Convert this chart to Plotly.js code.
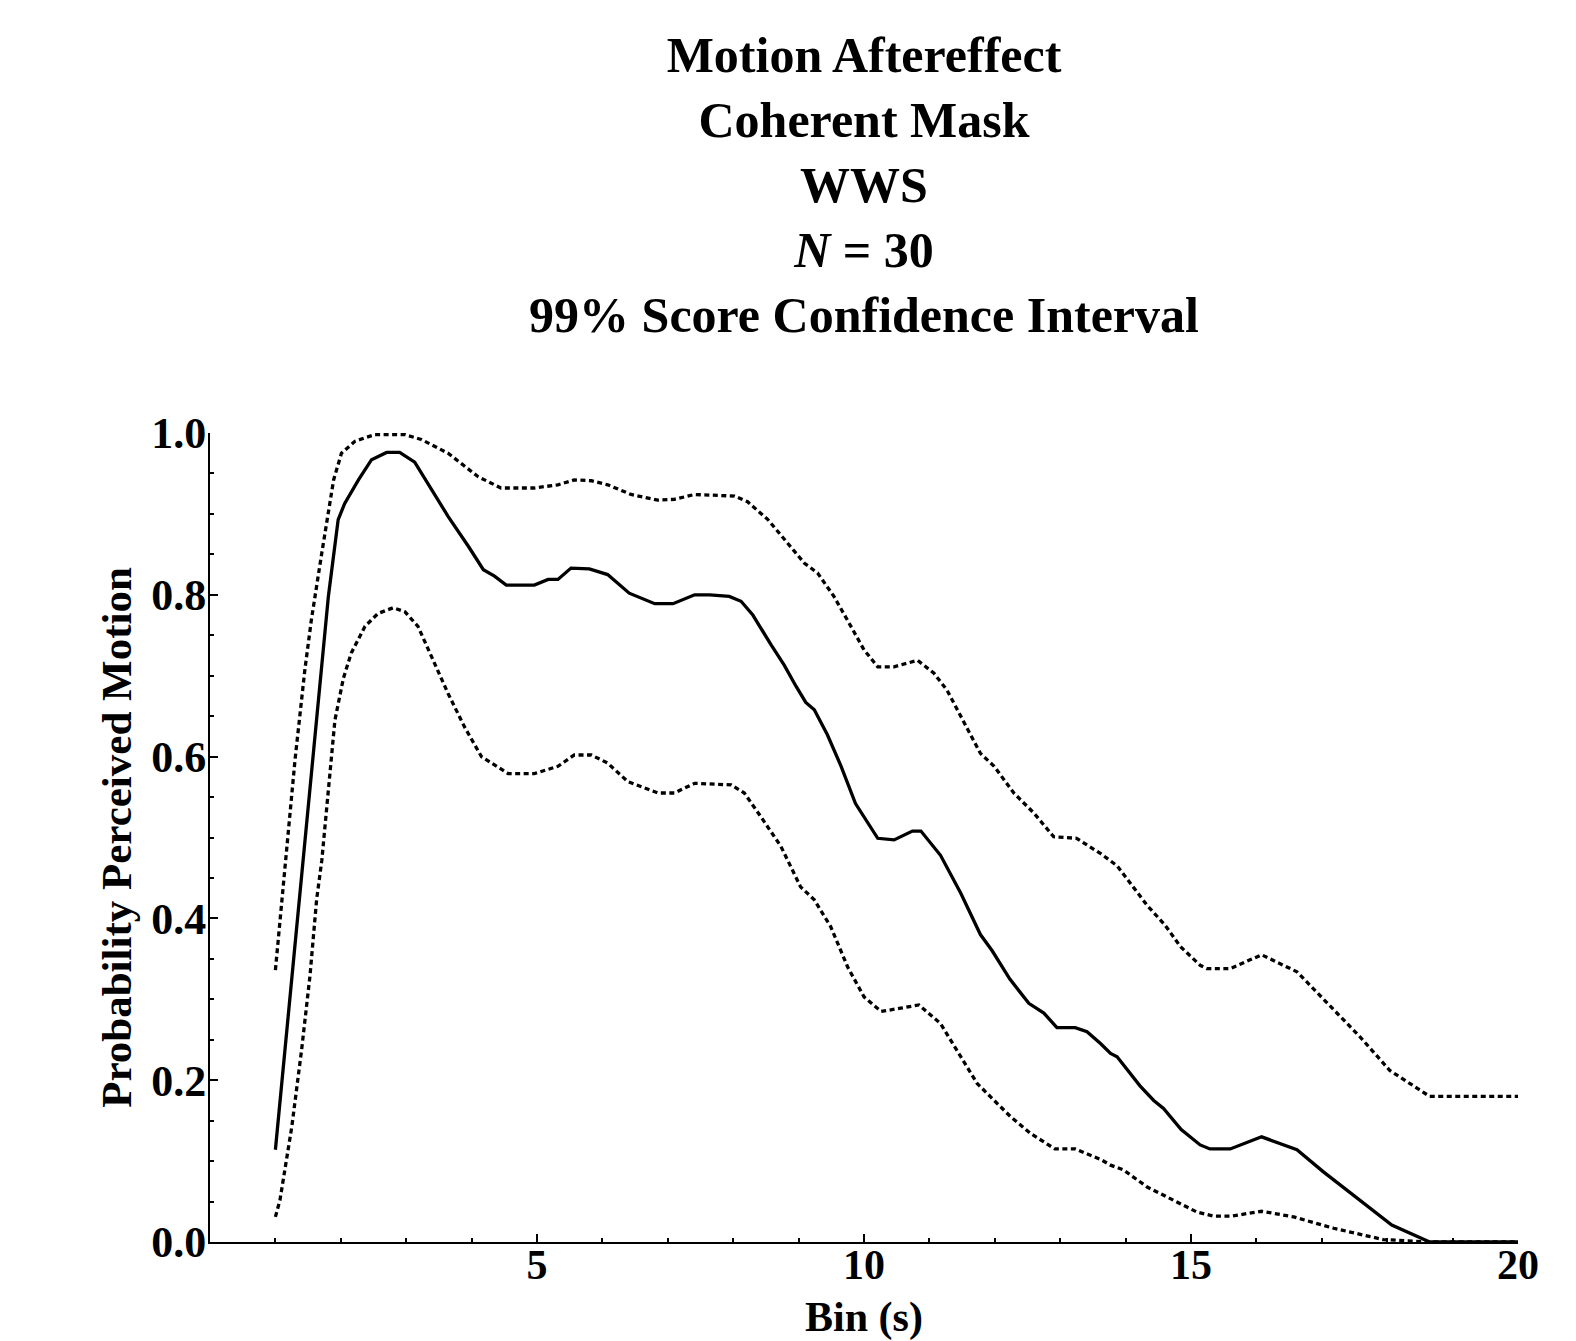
<!DOCTYPE html>
<html>
<head>
<meta charset="utf-8">
<script src="https://cdn.plot.ly/plotly-3.0.1.min.js"></script>
<style>
  html, body { margin: 0; padding: 0; background: #fff; }
  #chart { width: 1576px; height: 1341px; }
</style>
</head>
<body>
<div id="chart"></div>
<script>
// ---- Data ----
const meanX = [1.00, 1.63, 1.81, 1.96, 2.06, 2.27, 2.47, 2.70, 2.90, 3.13, 3.39, 3.64, 3.95, 4.18, 4.35, 4.53, 4.96, 5.17, 5.32, 5.52, 5.80, 6.08, 6.41, 6.80, 7.08, 7.41, 7.64, 7.94, 8.12, 8.30, 8.58, 8.78, 8.96, 9.11, 9.24, 9.44, 9.65, 9.87, 10.21, 10.46, 10.74, 10.87, 11.17, 11.48, 11.78, 11.96, 12.23, 12.52, 12.75, 12.95, 13.23, 13.41, 13.62, 13.77, 13.87, 14.22, 14.43, 14.58, 14.85, 15.14, 15.29, 15.60, 16.08, 16.62, 17.02, 17.64, 18.07, 18.65, 20.00];
const meanY = [0.114, 0.645, 0.798, 0.893, 0.913, 0.942, 0.967, 0.976, 0.976, 0.964, 0.930, 0.897, 0.860, 0.831, 0.823, 0.812, 0.812, 0.819, 0.819, 0.833, 0.832, 0.825, 0.802, 0.789, 0.789, 0.800, 0.800, 0.798, 0.792, 0.775, 0.738, 0.713, 0.687, 0.667, 0.658, 0.627, 0.588, 0.542, 0.499, 0.497, 0.508, 0.508, 0.478, 0.431, 0.380, 0.360, 0.325, 0.295, 0.283, 0.265, 0.265, 0.260, 0.245, 0.233, 0.229, 0.193, 0.175, 0.165, 0.139, 0.120, 0.115, 0.115, 0.130, 0.114, 0.087, 0.048, 0.021, 0.000, 0.000];

const upperX = [1.00, 1.10, 1.17, 1.30, 1.45, 1.55, 1.71, 1.89, 2.01, 2.22, 2.52, 2.98, 3.23, 3.64, 4.10, 4.45, 4.96, 5.32, 5.57, 5.83, 6.08, 6.44, 6.85, 7.10, 7.41, 8.02, 8.22, 8.53, 8.83, 9.09, 9.29, 9.54, 9.80, 10.00, 10.21, 10.46, 10.82, 11.07, 11.27, 11.50, 11.78, 11.99, 12.29, 12.60, 12.90, 13.25, 13.62, 13.87, 14.07, 14.33, 14.60, 14.84, 15.14, 15.24, 15.60, 16.08, 16.62, 17.08, 17.58, 18.04, 18.65, 20.00];
const upperY = [0.336, 0.423, 0.481, 0.596, 0.707, 0.769, 0.852, 0.942, 0.975, 0.990, 0.998, 0.998, 0.992, 0.975, 0.946, 0.932, 0.932, 0.936, 0.942, 0.941, 0.936, 0.924, 0.917, 0.918, 0.924, 0.922, 0.915, 0.893, 0.864, 0.839, 0.827, 0.798, 0.761, 0.732, 0.711, 0.711, 0.719, 0.703, 0.682, 0.647, 0.604, 0.588, 0.555, 0.530, 0.501, 0.499, 0.480, 0.465, 0.443, 0.416, 0.392, 0.365, 0.342, 0.338, 0.338, 0.355, 0.334, 0.295, 0.254, 0.212, 0.180, 0.180];

const lowerX = [1.00, 1.07, 1.25, 1.40, 1.53, 1.63, 1.71, 1.81, 1.91, 2.04, 2.16, 2.37, 2.57, 2.80, 2.98, 3.18, 3.39, 3.64, 3.89, 4.15, 4.56, 4.96, 5.32, 5.57, 5.83, 6.08, 6.39, 6.85, 7.10, 7.41, 7.97, 8.17, 8.42, 8.73, 9.03, 9.24, 9.49, 9.75, 10.00, 10.26, 10.56, 10.84, 11.17, 11.48, 11.73, 11.94, 12.24, 12.55, 12.92, 13.23, 13.62, 13.77, 13.97, 14.33, 14.73, 15.09, 15.35, 15.62, 16.08, 16.57, 17.18, 17.94, 18.65, 20.00];
const lowerY = [0.031, 0.052, 0.142, 0.237, 0.330, 0.423, 0.472, 0.555, 0.645, 0.697, 0.728, 0.761, 0.777, 0.784, 0.779, 0.761, 0.724, 0.678, 0.637, 0.600, 0.579, 0.579, 0.588, 0.602, 0.602, 0.592, 0.569, 0.555, 0.555, 0.567, 0.565, 0.555, 0.526, 0.489, 0.439, 0.423, 0.390, 0.340, 0.303, 0.285, 0.289, 0.293, 0.270, 0.229, 0.196, 0.179, 0.155, 0.134, 0.115, 0.115, 0.102, 0.095, 0.089, 0.068, 0.052, 0.037, 0.032, 0.032, 0.038, 0.031, 0.017, 0.003, 0.000, 0.000];

const titleLines = ['Motion Aftereffect', 'Coherent Mask', 'WWS', '<i>N</i> = 30', '99% Score Confidence Interval'];
const xTickVals = [5, 10, 15, 20];
const yTickVals = [0, 0.2, 0.4, 0.6, 0.8, 1.0];
const yTickText = ['0.0', '0.2', '0.4', '0.6', '0.8', '1.0'];
const xTitle = 'Bin (s)';
const yTitle = 'Probability Perceived Motion';

// ---- Styles ----
const FONT = 'Liberation Serif, Times New Roman, serif';
const dotted = { color: '#000', width: 3.3, dash: '5px,3.5px' };

const traces = [
  { x: upperX, y: upperY, type: 'scatter', mode: 'lines', line: dotted, hoverinfo: 'skip' },
  { x: lowerX, y: lowerY, type: 'scatter', mode: 'lines', line: dotted, hoverinfo: 'skip' },
  { x: meanX, y: meanY, type: 'scatter', mode: 'lines', line: { color: '#000', width: 3.3 }, hoverinfo: 'skip' }
];

const layout = {
  width: 1576,
  height: 1341,
  paper_bgcolor: '#fff',
  plot_bgcolor: '#fff',
  showlegend: false,
  margin: { l: 210, r: 58, t: 433, b: 99, pad: 0 },
  font: { family: FONT, color: '#000' },
  title: {
    text: titleLines.join('<br>'),
    font: { family: FONT, size: 50, color: '#000', weight: 'bold' },
    x: 0.5, xref: 'paper', xanchor: 'center',
    y: 0.9465, yref: 'container', yanchor: 'top'
  },
  xaxis: {
    range: [0, 20],
    showgrid: false, zeroline: false,
    showline: true, linecolor: '#000', linewidth: 2,
    ticks: 'inside', ticklen: 8, tickwidth: 2, tickcolor: '#000',
    tickvals: xTickVals,
    ticklabelstandoff: -15,
    tickfont: { family: FONT, size: 42, color: '#000', weight: 'bold' },
    minor: { tick0: 0, dtick: 1, ticks: 'inside', ticklen: 4, tickwidth: 2, tickcolor: '#000', showgrid: false },
    title: { text: xTitle, font: { family: FONT, size: 42, color: '#000', weight: 'bold' }, standoff: 17 },
    automargin: false
  },
  yaxis: {
    range: [0, 1],
    showgrid: false, zeroline: false,
    showline: true, linecolor: '#000', linewidth: 2,
    ticks: 'inside', ticklen: 8, tickwidth: 2, tickcolor: '#000',
    tickvals: yTickVals, ticktext: yTickText,
    ticklabelstandoff: -7,
    tickfont: { family: FONT, size: 44, color: '#000', weight: 'bold' },
    minor: { tick0: 0, dtick: 0.05, ticks: 'inside', ticklen: 4, tickwidth: 2, tickcolor: '#000', showgrid: false },
    title: { text: yTitle, font: { family: FONT, size: 43, color: '#000', weight: 'bold' }, standoff: 6 },
    automargin: false
  }
};

Plotly.newPlot('chart', traces, layout, { displayModeBar: false, staticPlot: true });
</script>
</body>
</html>
